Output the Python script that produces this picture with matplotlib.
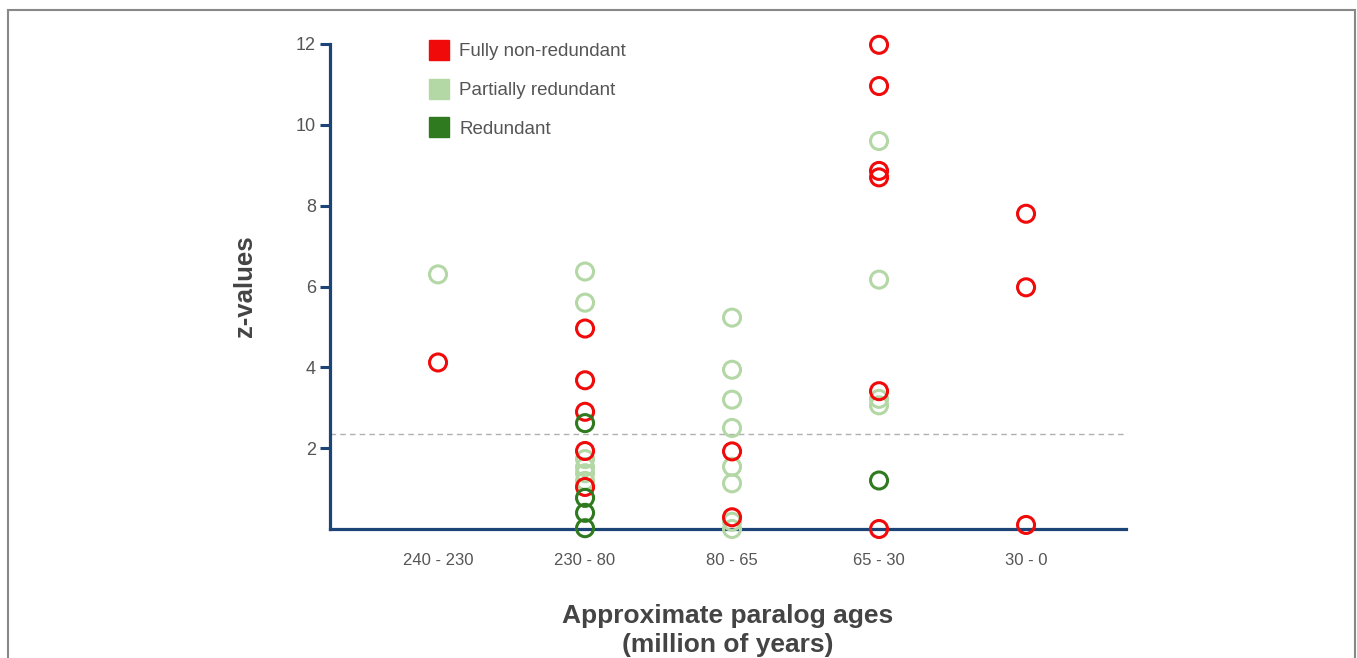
import matplotlib
matplotlib.use("Agg")
import matplotlib.pyplot as plt
from matplotlib.lines import Line2D
from matplotlib.patches import Rectangle

plt.rcParams['font.family'] = ['Liberation Sans', 'DejaVu Sans']

# age classes on the x axis
ages = ["240 - 230", "230 - 80", "80 - 65", "65 - 30", "30 - 0"]

# z-values per age class, one list per redundancy group
partial = [
    [6.30],
    [6.37, 5.60, 1.73, 1.53, 1.38, 1.19],
    [5.23, 3.94, 3.20, 2.50, 1.54, 1.13, 0.18, 0.0],
    [9.60, 6.17, 3.22, 3.06],
    [],
]
fully = [
    [4.12],
    [4.96, 3.68, 2.90, 1.93, 1.04],
    [1.92, 0.29],
    [11.98, 10.96, 8.86, 8.70, 3.41, 0.0],
    [7.80, 5.98, 0.10],
]
redundant = [
    [],
    [2.62, 0.77, 0.40, 0.02],
    [],
    [1.20],
    [],
]
threshold = 2.35

c_red = "#f00a0a"
c_light = "#b3d7a5"
c_dark = "#2f7a1f"
c_axis = "#1c4477"

fig = plt.figure(figsize=(13.57, 6.58), dpi=100)
ax = fig.add_axes([330 / 1357, 1 - 529 / 658, 796 / 1357, 485 / 658])


def scatter_group(groups, color, z):
    xs, ys = [], []
    for i, vals in enumerate(groups):
        xs += [i] * len(vals)
        ys += vals
    ax.scatter(xs, ys, s=150, facecolors="none", edgecolors=color,
               linewidths=2.2, zorder=z, clip_on=False)


scatter_group(partial, c_light, 3)
scatter_group(fully, c_red, 4)
scatter_group(redundant, c_dark, 5)

ax.axhline(threshold, color="#b0b0b0", lw=1, ls=(0, (4, 3)), zorder=1)

ax.set_xlim(-0.735, 4.68)
ax.set_ylim(0, 12)
ax.set_xticks(range(len(ages)))
ax.set_xticklabels(ages)
ax.set_yticks([2, 4, 6, 8, 10, 12])

for s in ["top", "right"]:
    ax.spines[s].set_visible(False)
for s in ["left", "bottom"]:
    ax.spines[s].set_color(c_axis)
    ax.spines[s].set_linewidth(2.3)

ax.tick_params(axis="x", length=0, pad=17, labelsize=12, labelcolor="#555555")
ax.tick_params(axis="y", length=7, width=2.2, color=c_axis, pad=3,
               labelsize=13, labelcolor="#555555")

ax.set_ylabel("z-values", fontsize=18.5, fontweight="bold", color="#444444",
              labelpad=28)
ax.set_xlabel("Approximate paralog ages\n(million of years)", fontsize=19,
              fontweight="bold", color="#444444", labelpad=26,
              linespacing=1.3)

handles = [
    Line2D([], [], marker="s", ls="none", markersize=15, color=c_red),
    Line2D([], [], marker="s", ls="none", markersize=15, color=c_light),
    Line2D([], [], marker="s", ls="none", markersize=15, color=c_dark),
]
leg = ax.legend(handles, ["Fully non-redundant", "Partially redundant", "Redundant"],
                loc="upper left", bbox_to_anchor=(418 / 1357, 1 - 34 / 658),
                bbox_transform=fig.transFigure, frameon=False, fontsize=13.5,
                labelspacing=1.15, handletextpad=0.5, borderpad=0,
                handlelength=1.2)
for t in leg.get_texts():
    t.set_color("#555555")

# outer frame
fig.add_artist(Rectangle((8 / 1357, -0.1), 1347 / 1357, 1.1 - 10 / 658,
                         transform=fig.transFigure, fill=False,
                         edgecolor="#888888", lw=1.5))

fig.savefig("out.png", dpi=100)
